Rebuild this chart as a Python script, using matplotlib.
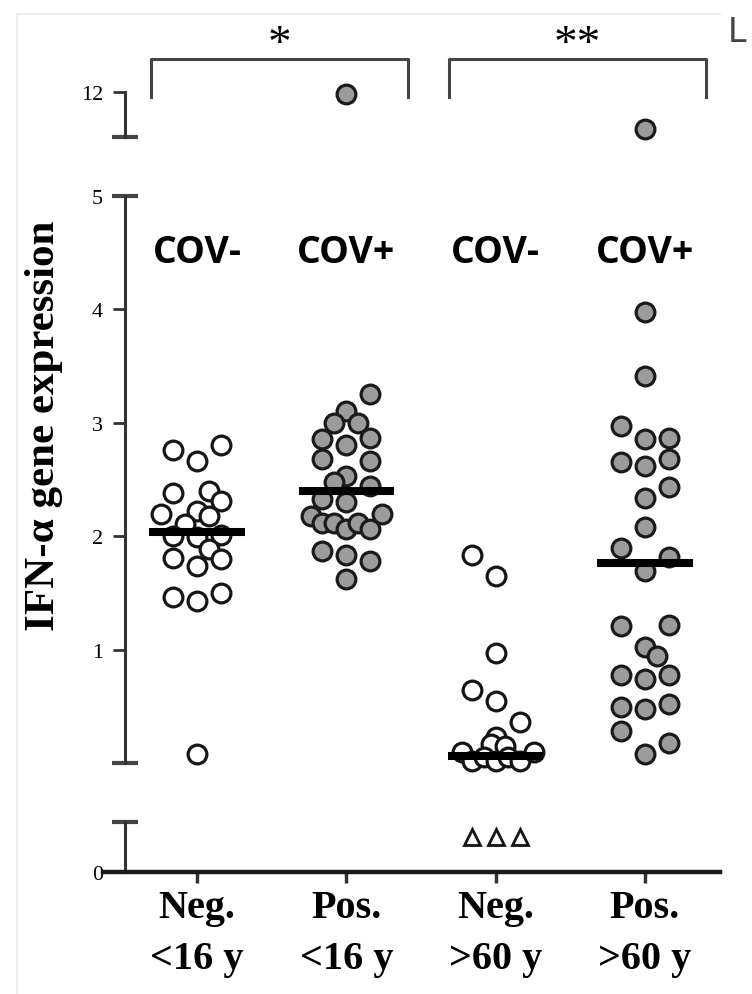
import matplotlib.pyplot as plt
from matplotlib.lines import Line2D

# groups on the x axis
groups = [1, 2, 3, 4]
group_labels = ['Neg.\n<16 y', 'Pos.\n<16 y', 'Neg.\n>60 y', 'Pos.\n>60 y']
cov_labels = ['COV-', 'COV+', 'COV-', 'COV+']
medians = [2.04, 2.40, 0.06, 1.76]

# dot columns (left/right offset in dot widths) and values
neg16_col = [-1, 0, 1, -1, 0.5, 1, -1.5, 0, 0.5, -0.5, -1, 0, 1, 0.5, -1, 0, 1, -1, 0, 1, 0]
neg16_val = [2.76, 2.66, 2.80, 2.38, 2.40, 2.31, 2.20, 2.22, 2.18, 2.11, 2.00, 1.99, 2.01,
             1.89, 1.81, 1.74, 1.80, 1.46, 1.43, 1.50, 0.08]

pos16_col = [1, 0, -0.5, 0.5, -1, 1, 0, -1, 1, 0, -0.5, 1, -1, 0, -1.5, 1.5, -1, -0.5, 0,
             0.5, 1, -1, 0, 1, 0]
pos16_val = [3.25, 3.10, 3.00, 3.00, 2.86, 2.87, 2.80, 2.68, 2.66, 2.53, 2.48, 2.44, 2.33,
             2.30, 2.18, 2.20, 2.12, 2.12, 2.06, 2.12, 2.06, 1.87, 1.83, 1.78, 1.62]

neg60_col = [-1, 0, 0, -1, 0, 1, 0, -0.2, 0.4, -1.4, -1, -0.5, 0, 0.5, 1, 1.6]
neg60_val = [1.83, 1.65, 0.97, 0.64, 0.55, 0.36, 0.23, 0.17, 0.15, 0.10, 0.02, 0.05, 0.02,
             0.05, 0.02, 0.10]

pos60_col = [0, 0, -1, 0, 1, -1, 0, 1, 1, 0, 0, -1, 1, 0, -1, 1, 0, 0.5, -1, 0, 1, -1, 0,
             1, -1, 0, 1]
pos60_val = [3.98, 3.41, 2.97, 2.86, 2.87, 2.65, 2.62, 2.68, 2.43, 2.34, 2.08, 1.90, 1.82,
             1.69, 1.21, 1.22, 1.02, 0.94, 0.78, 0.74, 0.78, 0.49, 0.48, 0.52, 0.28, 0.08, 0.18]

# points above the break (upper segment)
high_group = [2, 4]
high_val = [11.9, 10.35]

# undetected samples (lower segment), Neg >60
undet_col = [-1, 0, 1]
undet_val = [0.7, 0.7, 0.7]

signif = [(1, 2, '*'), (3, 4, '**')]

SERIF = 'Liberation Serif'
W, H = 752, 995
step = 0.16


def px_box(x0, y_top, x1, y_bot):
    return [x0 / W, 1 - y_bot / H, (x1 - x0) / W, (y_bot - y_top) / H]


fig = plt.figure(figsize=(7.52, 9.95), dpi=100)
ax_top = fig.add_axes(px_box(103, 93, 720, 138))
ax_main = fig.add_axes(px_box(103, 197, 720, 764))
ax_low = fig.add_axes(px_box(103, 823, 720, 873))

spine_x = 0.518
for ax in (ax_top, ax_main, ax_low):
    ax.set_xlim(0.37, 4.503)
    ax.patch.set_visible(False)
    ax.spines['top'].set_visible(False)
    ax.spines['right'].set_visible(False)
    ax.spines['left'].set_position(('data', spine_x))
    ax.spines['left'].set_linewidth(2.2)
    ax.spines['left'].set_color('#333333')
    ax.yaxis.remove_overlapping_locs = False
    ax.tick_params(axis='y', which='major', direction='out', length=9, width=2,
                   color='#333333', labelsize=16, pad=7)
    ax.tick_params(axis='y', which='minor', direction='inout', length=19, width=3,
                   color='#444444')

for ax in (ax_top, ax_main):
    ax.spines['bottom'].set_visible(False)
    ax.set_xticks([])

# upper segment
ax_top.set_ylim(10, 12)
ax_top.spines['left'].set_bounds(10, 12)
ax_top.set_yticks([12])
ax_top.set_yticklabels(['12'], family=SERIF)
ax_top.set_yticks([10], minor=True)

# main segment
ax_main.set_ylim(0, 5)
ax_main.spines['left'].set_bounds(0, 5)
ax_main.set_yticks([1, 2, 3, 4, 5])
ax_main.set_yticklabels(['1', '2', '3', '4', '5'], family=SERIF)
ax_main.set_yticks([0, 5], minor=True)

# lower segment
ax_low.set_ylim(0, 1)
ax_low.spines['left'].set_bounds(0, 1)
ax_low.set_yticks([0])
ax_low.set_yticklabels(['0'], family=SERIF)
ax_low.set_yticks([1], minor=True)
ax_low.spines['bottom'].set_linewidth(3.2)
ax_low.spines['bottom'].set_color('#1a1a1a')
ax_low.set_xticks(groups)
ax_low.set_xticklabels(group_labels, family=SERIF, fontweight='bold', fontsize=29,
                       linespacing=1.5)
ax_low.tick_params(axis='x', direction='out', length=8, width=2.5, color='#333333', pad=4)

open_style = dict(ls='none', marker='o', ms=13.5, mfc='white', mec='#151515', mew=2.3,
                  clip_on=False, zorder=3)
fill_style = dict(ls='none', marker='o', ms=13.5, mfc='#9b9b9b', mec='#1a1a1a', mew=2.3,
                  clip_on=False, zorder=3)

series = [(neg16_col, neg16_val, open_style), (pos16_col, pos16_val, fill_style),
          (neg60_col, neg60_val, open_style), (pos60_col, pos60_val, fill_style)]
for g, (cols, vals, style) in zip(groups, series):
    xs = [g + c * step for c in cols]
    ax_main.plot(xs, vals, **style)

ax_top.plot(high_group, high_val, **fill_style)

ax_low.plot([3 + c * step for c in undet_col], undet_val, ls='none', marker='^', ms=12,
            mfc='white', mec='#151515', mew=2, clip_on=False)

for g, m in zip(groups, medians):
    ax_main.plot([g - 0.32, g + 0.32], [m, m], color='black', lw=5.8,
                 solid_capstyle='butt', zorder=5)

for g, lab in zip(groups, cov_labels):
    ax_main.text(g, 4.51, lab, ha='center', va='center', fontsize=27,
                 fontweight='bold', family='Open Sans')

# significance brackets above the upper segment
tr = ax_top.get_xaxis_transform()
for a, b, star in signif:
    x0, x1 = a - 0.31, b + 0.41
    ax_top.plot([x0, x0, x1, x1], [0.89, 1.73, 1.73, 0.89], color='#444444', lw=2.2,
                transform=tr, clip_on=False)
    ax_top.text((a + b) / 2 + 0.05, 2.05, star, transform=tr, ha='center', va='center',
                fontsize=34, family=SERIF)

fig.text(44 / W, 1 - 426 / H, 'IFN-α gene expression', rotation=90, ha='center',
         va='center', fontsize=31, fontweight='bold', family=SERIF)

# faint frame and the cut-off letter of the next panel
fig.add_artist(Line2D([17 / W, 17 / W], [0, 1 - 15 / H], color='#eeeeee', lw=1.5))
fig.add_artist(Line2D([17 / W, 720 / W], [1 - 15 / H, 1 - 15 / H], color='#eeeeee', lw=1.5))
fig.text(728 / W, 1 - 42 / H, 'L', fontsize=24, color='#444444', family='DejaVu Sans')

fig.savefig('out.png', dpi=100)
